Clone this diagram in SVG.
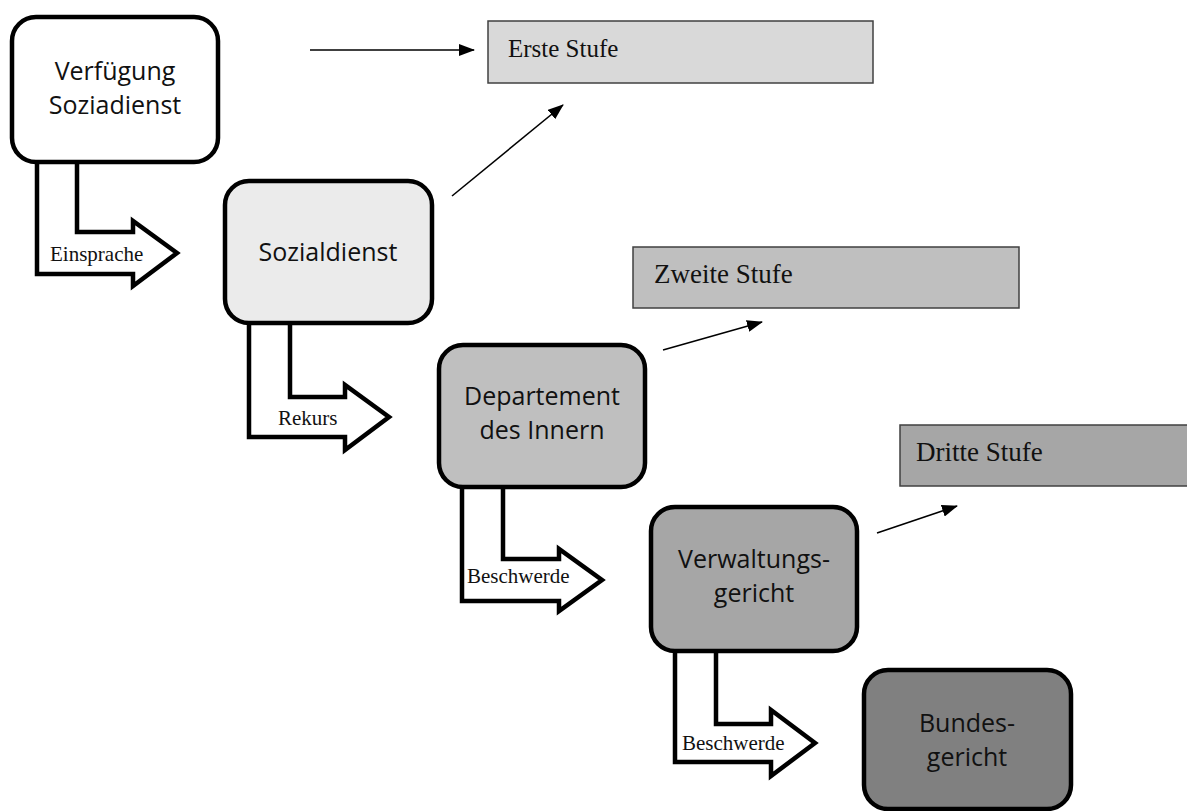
<svg xmlns="http://www.w3.org/2000/svg" width="1187" height="811" viewBox="0 0 1187 811">
<style>
.node{stroke:#000;stroke-width:4.5}
.ntext{font-family:"Open Sans","Noto Sans",sans-serif;font-size:25px;fill:#111;text-anchor:middle}
.stage{stroke:#404040;stroke-width:1.5}
.stext{font-family:"Liberation Serif",serif;font-size:26px;fill:#111}
.bent{fill:#fff;stroke:#000;stroke-width:4.5;stroke-linejoin:miter}
.ltext{font-family:"Liberation Serif",serif;font-size:21px;fill:#111}
.line{stroke:#000;stroke-width:1.6;fill:none;marker-end:url(#ah)}
</style>
<defs>
<marker id="ah" markerUnits="userSpaceOnUse" markerWidth="16" markerHeight="12" refX="15" refY="6" orient="auto">
<path d="M0,0 L16,6 L0,12 z" fill="#000"/>
</marker>
</defs>
<rect width="1187" height="811" fill="#fff"/>

<g id="stage1">
<rect class="stage" x="488" y="21" width="385" height="62" fill="#d9d9d9"/>
<text class="stext" x="508" y="57" style="font-size:25px">Erste Stufe</text>
</g>
<g id="stage2">
<rect class="stage" x="633" y="247" width="386" height="61" fill="#bfbfbf"/>
<text class="stext" x="654" y="283" style="font-size:27px">Zweite Stufe</text>
</g>
<g id="stage3">
<rect class="stage" x="900" y="425" width="300" height="61" fill="#a6a6a6"/>
<text class="stext" x="916" y="461" style="font-size:27px">Dritte Stufe</text>
</g>

<g id="connectors">
<path class="line" d="M310,50 H474"/>
<path class="line" d="M452,196 L563,105"/>
<path class="line" d="M663,350 L762,322"/>
<path class="line" d="M877,533 L957,506"/>
<g id="einsprache">
<path class="bent" d="M37,163 V274 H133 V286 L177,253 L133,221 V232 H77 V163"/>
<text class="ltext" x="50" y="261">Einsprache</text>
</g>
<g id="rekurs">
<path class="bent" d="M249,324 V437 H345 V450 L389,417 L345,385 V397 H290 V324"/>
<text class="ltext" x="278" y="425">Rekurs</text>
</g>
<g id="beschwerde1">
<path class="bent" d="M462,487 V601 H559 V611 L602,580 L559,549 V559 H503 V487"/>
<text class="ltext" x="467" y="583">Beschwerde</text>
</g>
<g id="beschwerde2">
<path class="bent" d="M675,651 V762 H771 V776 L815,743 L771,710 V724 H716 V651"/>
<text class="ltext" x="682" y="750">Beschwerde</text>
</g>
</g>

<g id="n1">
<rect class="node" x="12" y="17" width="206" height="145" rx="24" fill="#fff"/>
<text class="ntext" x="115" y="80">Verfügung</text>
<text class="ntext" x="115" y="114">Soziadienst</text>
</g>
<g id="n2">
<rect class="node" x="225" y="181" width="207" height="142" rx="24" fill="#ebebeb"/>
<text class="ntext" x="328" y="261">Sozialdienst</text>
</g>
<g id="n3">
<rect class="node" x="439" y="345" width="206" height="142" rx="24" fill="#bfbfbf"/>
<text class="ntext" x="542" y="405">Departement</text>
<text class="ntext" x="542" y="439">des Innern</text>
</g>
<g id="n4">
<rect class="node" x="651" y="507" width="206" height="144" rx="24" fill="#a6a6a6"/>
<text class="ntext" x="754" y="568">Verwaltungs-</text>
<text class="ntext" x="754" y="602">gericht</text>
</g>
<g id="n5">
<rect class="node" x="864" y="670" width="207" height="139" rx="24" fill="#808080"/>
<text class="ntext" x="967" y="732">Bundes-</text>
<text class="ntext" x="967" y="766">gericht</text>
</g>
</svg>
